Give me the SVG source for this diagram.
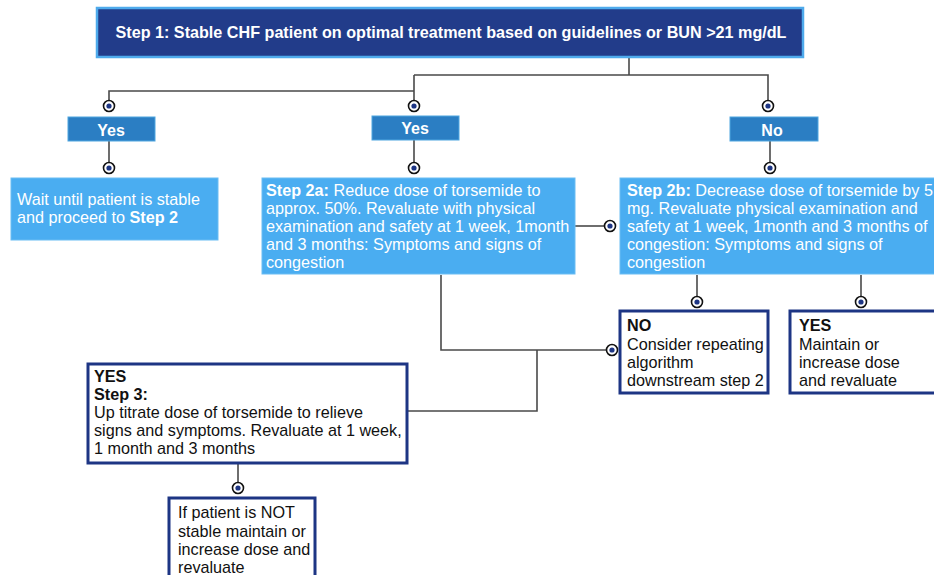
<svg xmlns="http://www.w3.org/2000/svg" width="934" height="575" viewBox="0 0 934 575">
<defs>
<style>
text{font-family:"Liberation Sans",Arial,sans-serif;font-size:16.2px;}
.w{fill:#ffffff;}
.k{fill:#111111;}
.b{font-weight:bold;}
.lbl{font-size:16px;font-weight:bold;fill:#ffffff;}
.yes{fill:#2b7ec3;stroke:#4ea6e0;stroke-width:1;}
.lt{fill:#4aadf1;stroke:#6bbdf3;stroke-width:1;}
.wb{fill:#ffffff;stroke:#1d3584;stroke-width:3;}
.ln{fill:none;stroke:#4a4a4a;stroke-width:1.6;}
</style>
<g id="dot"><circle r="5.5" fill="#ffffff" stroke="#111111" stroke-width="1.6"/><circle r="2.6" fill="#1d3584"/></g>
</defs>
<rect width="934" height="575" fill="#ffffff"/>

<g id="connectors">
<path class="ln" d="M629,57 V75 M414,75 H768 V101 M414,75 V101 M414,91 H109 V101"/>
<path class="ln" d="M109,141 V163 M414,140 V163 M770,141 V163"/>
<path class="ln" d="M575,226 H604"/>
<path class="ln" d="M697,275 V296 M861,275 V296"/>
<path class="ln" d="M441,275 V350 H606 M537,350 V411 H407"/>
<path class="ln" d="M238,463 V483"/>
<use href="#dot" x="109" y="106"/>
<use href="#dot" x="414" y="106"/>
<use href="#dot" x="768" y="106"/>
<use href="#dot" x="109" y="168"/>
<use href="#dot" x="414" y="168"/>
<use href="#dot" x="770" y="168"/>
<use href="#dot" x="610" y="226"/>
<use href="#dot" x="697" y="302"/>
<use href="#dot" x="861" y="302"/>
<use href="#dot" x="612" y="350"/>
<use href="#dot" x="238" y="488"/>
</g>

<g id="step1">
<rect x="97" y="8" width="706" height="49" fill="#223c8a" stroke="#4eaaec" stroke-width="2.5"/>
<text class="w b" x="451" y="38" font-size="16.5" text-anchor="middle" textLength="671" lengthAdjust="spacingAndGlyphs">Step 1: Stable CHF patient on optimal treatment based on guidelines or BUN &gt;21 mg/dL</text>
</g>

<g id="yes1">
<rect class="yes" x="68" y="117" width="87" height="24"/>
<text class="lbl" x="111" y="135.5" text-anchor="middle">Yes</text>
</g>
<g id="yes2">
<rect class="yes" x="372" y="116" width="87" height="24"/>
<text class="lbl" x="415" y="134" text-anchor="middle">Yes</text>
</g>
<g id="no1">
<rect class="yes" x="730" y="117" width="88" height="24"/>
<text class="lbl" x="772" y="135.5" text-anchor="middle">No</text>
</g>

<g id="wait">
<rect class="lt" x="11" y="178" width="207" height="62"/>
<text class="w" x="17" y="205">Wait until patient is stable</text>
<text class="w" x="17" y="223">and proceed to <tspan class="b">Step 2</tspan></text>
</g>

<g id="step2a">
<rect class="lt" x="262" y="178" width="313" height="96"/>
<text class="w" x="266" y="196"><tspan class="b">Step 2a:</tspan> Reduce dose of torsemide to</text>
<text class="w" x="266" y="214">approx. 50%. Revaluate with physical</text>
<text class="w" x="266" y="232">examination and safety at 1 week, 1month</text>
<text class="w" x="266" y="250">and 3 months: Symptoms and signs of</text>
<text class="w" x="266" y="268">congestion</text>
</g>

<g id="step2b">
<rect class="lt" x="620" y="178" width="320" height="96"/>
<text class="w" x="627" y="196"><tspan class="b">Step 2b:</tspan> Decrease dose of torsemide by 5</text>
<text class="w" x="627" y="214">mg. Revaluate physical examination and</text>
<text class="w" x="627" y="232">safety at 1 week, 1month and 3 months of</text>
<text class="w" x="627" y="250">congestion: Symptoms and signs of</text>
<text class="w" x="627" y="268">congestion</text>
</g>

<g id="no2">
<rect class="wb" x="620" y="311" width="148" height="82"/>
<text class="k b" x="627" y="331">NO</text>
<text class="k" x="627" y="350">Consider repeating</text>
<text class="k" x="627" y="368">algorithm</text>
<text class="k" x="627" y="386">downstream step 2</text>
</g>

<g id="yes3">
<rect class="wb" x="790" y="311" width="150" height="82"/>
<text class="k b" x="799" y="331">YES</text>
<text class="k" x="799" y="350">Maintain or</text>
<text class="k" x="799" y="368">increase dose</text>
<text class="k" x="799" y="386">and revaluate</text>
</g>

<g id="step3">
<rect class="wb" x="88" y="364" width="319" height="99"/>
<text class="k b" x="94" y="382">YES</text>
<text class="k b" x="94" y="400">Step 3:</text>
<text class="k" x="94" y="418">Up titrate dose of torsemide to relieve</text>
<text class="k" x="94" y="436">signs and symptoms. Revaluate at 1 week,</text>
<text class="k" x="94" y="454">1 month and 3 months</text>
</g>

<g id="notstable">
<rect class="wb" x="169" y="498" width="146" height="90"/>
<text class="k" x="178" y="518">If patient is NOT</text>
<text class="k" x="178" y="537">stable maintain or</text>
<text class="k" x="178" y="555">increase dose and</text>
<text class="k" x="178" y="573">revaluate</text>
</g>
</svg>
